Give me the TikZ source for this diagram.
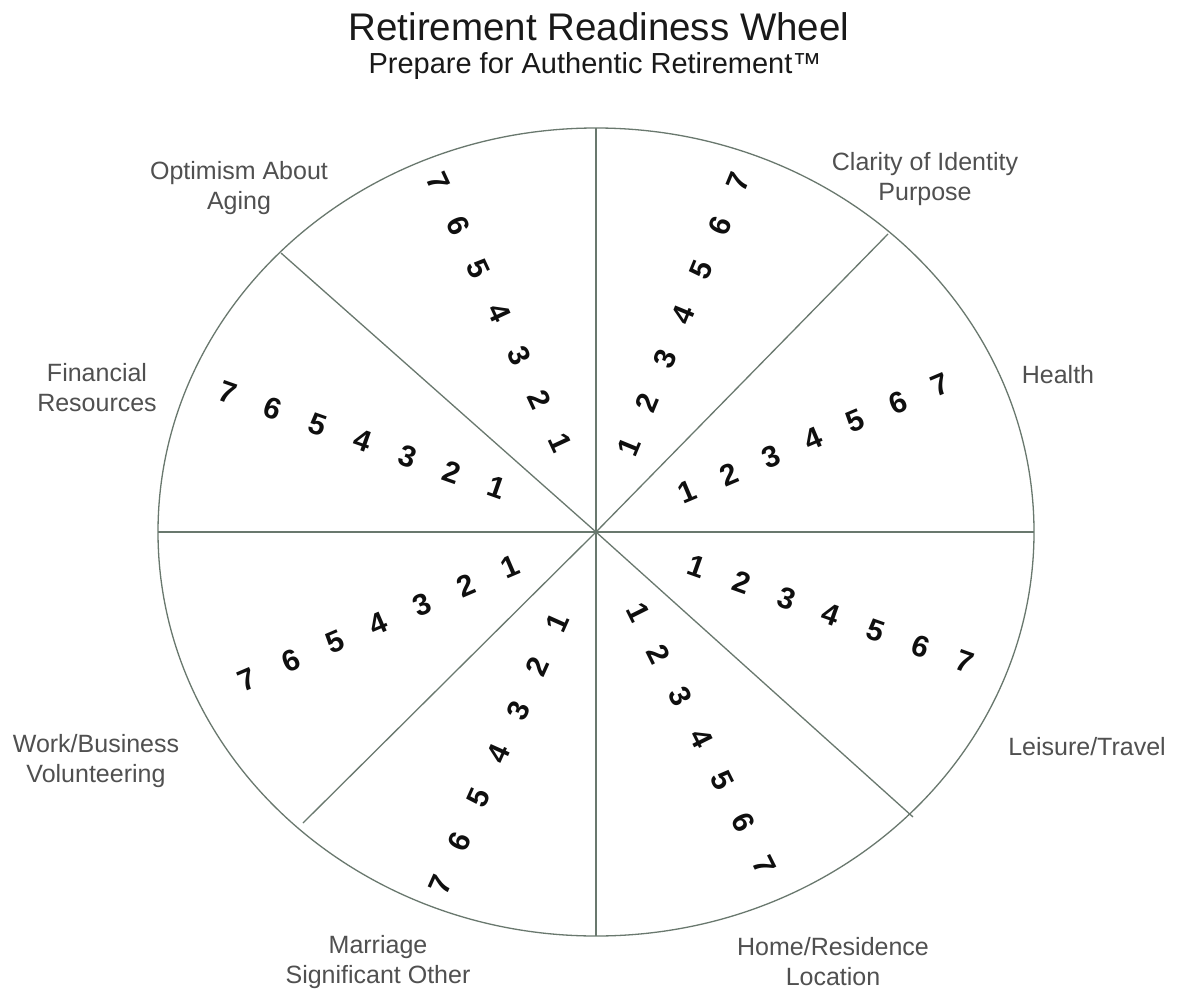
\documentclass[tikz,border=0pt]{standalone}
\usepackage{fontspec}
\setmainfont{Liberation Sans}
\definecolor{wheelgray}{RGB}{105,120,110}
\definecolor{lblgray}{RGB}{80,80,80}
\definecolor{digitblack}{RGB}{15,15,15}
\definecolor{titleblack}{RGB}{25,25,25}
\begin{document}
\begin{tikzpicture}[x=1pt,y=-1pt,
  wheel/.style={draw=wheelgray,line width=1.3pt},
  lbl/.style={text=lblgray,font=\fontsize{25}{30}\selectfont,align=center,inner sep=0pt},
  digit/.style={text=digitblack,font=\fontsize{30}{30}\selectfont\bfseries,inner sep=0pt},
  ttl/.style={text=titleblack,inner sep=0pt}]
\useasboundingbox[fill=white] (0,0) rectangle (1182,992);
% title
\node[ttl,font=\fontsize{38.5}{42}\selectfont] (title) at (599,27) {Retirement Readiness Wheel};
\node[ttl,font=\fontsize{29}{32}\selectfont] (subtitle) at (595,66) {Prepare for Authentic Retirement™};
% wheel
\coordinate (c) at (596,532);
\coordinate (top) at (596,128);
\coordinate (bot) at (596,936);
\coordinate (lft) at (158,532);
\coordinate (rgt) at (1034,532);
\coordinate (ur) at (888,234);
\coordinate (ul) at (281,253);
\coordinate (lr) at (913,817);
\coordinate (ll) at (303,823);
\draw[wheel] (c) ellipse [x radius=438, y radius=404];
\draw[wheel] (top) -- (bot);
\draw[wheel] (lft) -- (rgt);
\draw[wheel] (c) -- (ur);
\draw[wheel] (c) -- (ul);
\draw[wheel] (c) -- (lr);
\draw[wheel] (c) -- (ll);
% digits: sector / first(1) / last(7) / rotation
\foreach \s/\xa/\ya/\xb/\yb/\ang in {
  A/629/447/738/182/67.6,
  B/687/492/940/385/22.9,
  C/697/567/965/662/-19.5,
  D/638/612/764/865/-63.5,
  E/557/623/440/885/65.9,
  F/510/567/247/680/23.2,
  G/497/488/228/393/-19.4,
  H/560/443/438/182/-65} {
  \foreach \k in {1,...,7} {
    \node[digit,rotate=\ang] (\s\k) at ({\xa+(\xb-\xa)*(\k-1)/6},{\ya+(\yb-\ya)*(\k-1)/6}) {\k};
  }
}
% labels
\node[lbl] (opt) at (239,188) {Optimism About\\Aging};
\node[lbl] (fin) at (97,388) {Financial\\Resources};
\node[lbl] (cla) at (925,179) {Clarity of Identity\\Purpose};
\node[lbl] (hea) at (1058,375) {Health};
\node[lbl] (wor) at (96,761) {Work/Business\\Volunteering};
\node[lbl] (lei) at (1087,747) {Leisure/Travel};
\node[lbl] (mar) at (378,962) {Marriage\\Significant Other};
\node[lbl] (hom) at (833,962) {Home/Residence\\Location};
\end{tikzpicture}
\end{document}
